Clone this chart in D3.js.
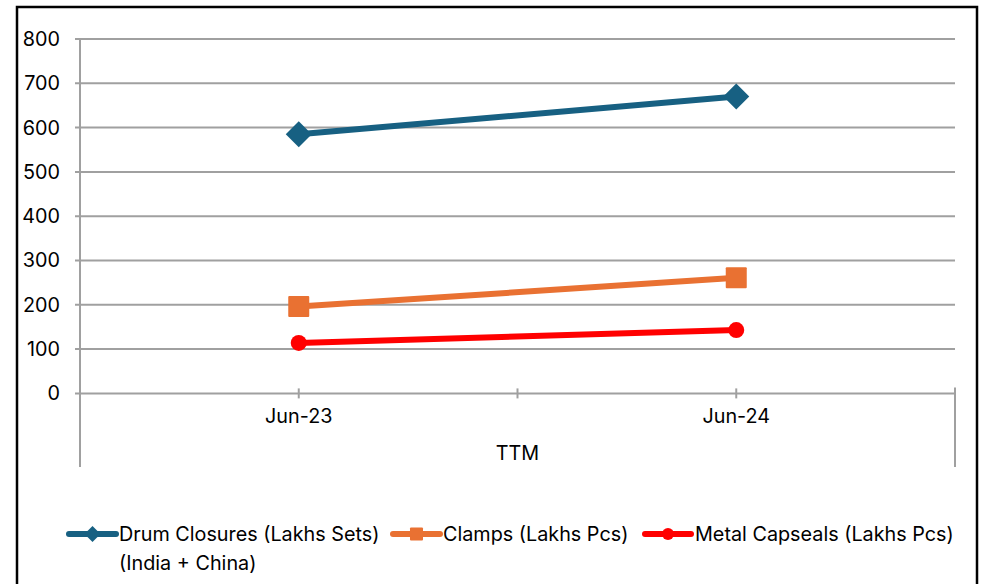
<!DOCTYPE html>
<html><head><meta charset="utf-8">
<script src="https://cdn.jsdelivr.net/npm/d3@7"></script>
<style>html,body{margin:0;padding:0;background:#fff;overflow:hidden}</style>
</head><body>
<svg id="chart" width="982" height="584"></svg>
<script>
const categories = ["Jun-23", "Jun-24"];
const groupLabel = "TTM";
const drumClosures = [585, 670];
const clamps = [196, 261];
const metalCapseals = [114, 143];
const yTicks = [0, 100, 200, 300, 400, 500, 600, 700, 800];
const seriesNames = ["Drum Closures (Lakhs Sets)", "Clamps (Lakhs Pcs)", "Metal Capseals (Lakhs Pcs)"];
const seriesNote = "(India + China)";

(function () {
const FONT = "Inter, 'Noto Sans', sans-serif";
const FS = 19.8;
const svg = d3.select("#chart");
svg.append("rect").attr("x", 17).attr("y", 7).attr("width", 960).attr("height", 600)
  .attr("fill", "#fff").attr("stroke", "#000").attr("stroke-width", 2.5);

const pLeft = 80, pRight = 955, pTop = 39, pBottom = 393.4;
const x = d3.scaleBand().domain(categories).range([pLeft, pRight]).padding(0);
const y = d3.scaleLinear().domain([0, 800]).range([pBottom, pTop]);
const grid = "#a0a0a0";

svg.append("g").selectAll("line").data(yTicks.filter(d => d > 0)).join("line")
  .attr("x1", pLeft - 5).attr("x2", pRight).attr("y1", d => y(d)).attr("y2", d => y(d))
  .attr("stroke", grid).attr("stroke-width", 2);
svg.append("line").attr("x1", pLeft).attr("x2", pLeft).attr("y1", pTop).attr("y2", 467)
  .attr("stroke", grid).attr("stroke-width", 2);
svg.append("line").attr("x1", pLeft - 5).attr("x2", pRight).attr("y1", y(0)).attr("y2", y(0))
  .attr("stroke", grid).attr("stroke-width", 2);
svg.append("line").attr("x1", pRight).attr("x2", pRight).attr("y1", y(0) - 6).attr("y2", 467)
  .attr("stroke", grid).attr("stroke-width", 2);
const tickXs = categories.map(c => x(c) + x.bandwidth() / 2).concat([x(categories[1])]);
svg.append("g").selectAll("line").data(tickXs).join("line")
  .attr("x1", d => d).attr("x2", d => d).attr("y1", y(0) - 5).attr("y2", y(0) + 5)
  .attr("stroke", grid).attr("stroke-width", 2);

svg.append("g").selectAll("text").data(yTicks).join("text")
  .attr("x", 60).attr("y", d => y(d)).attr("dy", "0.35em").attr("text-anchor", "end")
  .attr("font-family", FONT).attr("font-size", FS).attr("fill", "#000").text(d => d);
svg.append("g").selectAll("text").data(categories).join("text")
  .attr("x", d => x(d) + x.bandwidth() / 2).attr("y", 416).attr("dy", "0.35em").attr("text-anchor", "middle")
  .attr("font-family", FONT).attr("font-size", FS).attr("fill", "#000").text(d => d);
svg.append("text").attr("x", (pLeft + pRight) / 2).attr("y", 453).attr("dy", "0.35em").attr("text-anchor", "middle")
  .attr("font-family", FONT).attr("font-size", FS).attr("fill", "#000").text(groupLabel);

const series = [
  {name: seriesNames[0], values: drumClosures, color: "#176082", marker: "diamond"},
  {name: seriesNames[1], values: clamps, color: "#E97132", marker: "square"},
  {name: seriesNames[2], values: metalCapseals, color: "#FF0000", marker: "circle"}
];
const line = d3.line().x((d, i) => x(categories[i]) + x.bandwidth() / 2).y(d => y(d));

function drawMarker(g, type, cx, cy, color, scale) {
  const s = scale || 1;
  if (type === "diamond") {
    const r = 13 * s;
    g.append("path").attr("d", `M${cx},${cy - r}L${cx + r},${cy}L${cx},${cy + r}L${cx - r},${cy}Z`).attr("fill", color);
  } else if (type === "square") {
    const h = 10.5 * s;
    g.append("rect").attr("x", cx - h).attr("y", cy - h).attr("width", 2 * h).attr("height", 2 * h).attr("rx", 1).attr("fill", color);
  } else {
    g.append("circle").attr("cx", cx).attr("cy", cy).attr("r", 8 * s).attr("fill", color);
  }
}

series.forEach(s => {
  svg.append("path").datum(s.values).attr("d", line).attr("fill", "none")
    .attr("stroke", s.color).attr("stroke-width", 6).attr("stroke-linecap", "butt");
  const g = svg.append("g");
  s.values.forEach((v, i) => drawMarker(g, s.marker, x(categories[i]) + x.bandwidth() / 2, y(v), s.color));
});

const legendY = 534;
const legendItems = [
  {x1: 69, x2: 116, tx: 119},
  {x1: 393, x2: 440, tx: 443},
  {x1: 645, x2: 691, tx: 695}
];
series.forEach((s, i) => {
  const L = legendItems[i];
  const g = svg.append("g");
  g.append("line").attr("x1", L.x1).attr("x2", L.x2).attr("y1", legendY).attr("y2", legendY)
    .attr("stroke", s.color).attr("stroke-width", 6).attr("stroke-linecap", "round");
  drawMarker(g, s.marker, (L.x1 + L.x2) / 2, legendY, s.color, s.marker === "circle" ? 0.75 : 0.62);
  g.append("text").attr("x", L.tx).attr("y", legendY).attr("dy", "0.35em")
    .attr("font-family", FONT).attr("font-size", FS).attr("fill", "#000").text(s.name);
  if (i === 0) {
    g.append("text").attr("x", L.tx).attr("y", legendY + 29).attr("dy", "0.35em")
      .attr("font-family", FONT).attr("font-size", FS).attr("fill", "#000").text(seriesNote);
  }
});
})();
</script>
</body></html>
